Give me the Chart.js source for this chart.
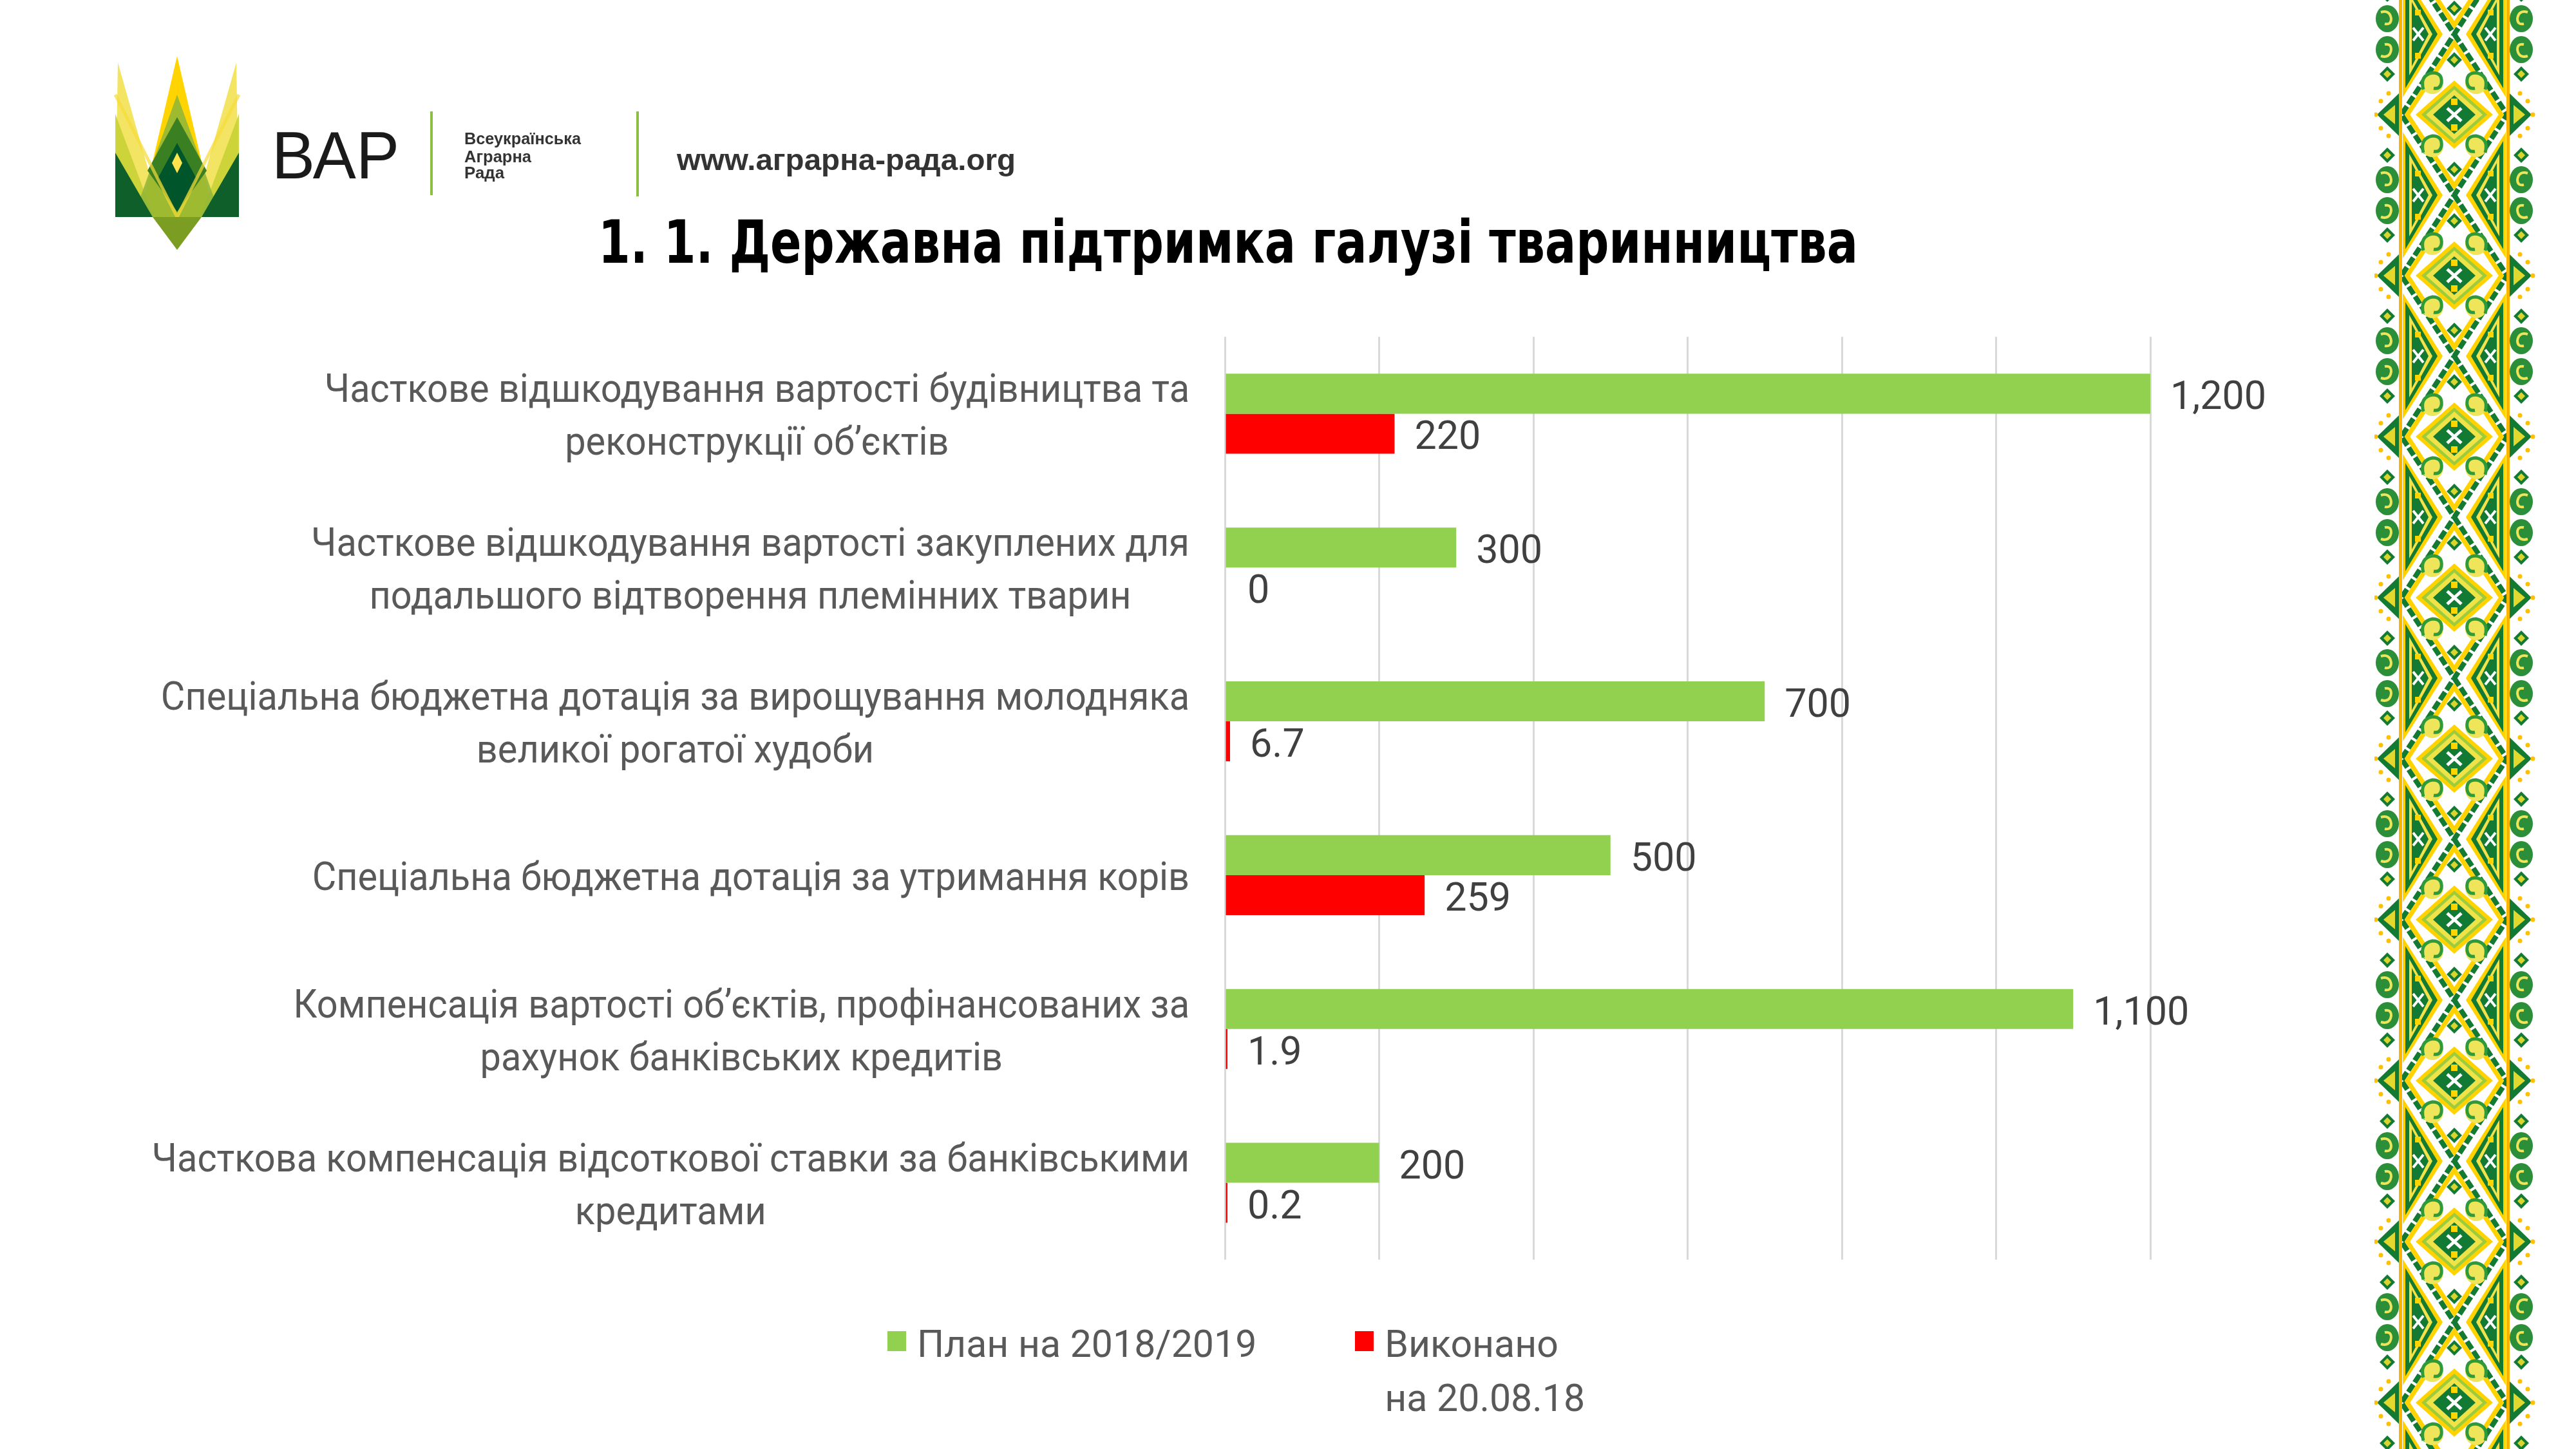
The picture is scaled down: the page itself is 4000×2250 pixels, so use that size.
<!DOCTYPE html>
<html lang="uk">
<head>
<meta charset="utf-8">
<title>Державна підтримка галузі тваринництва</title>
<script src="https://cdn.jsdelivr.net/npm/chart.js@4.4.0/dist/chart.umd.min.js"></script>
<style>
  html, body { margin:0; padding:0; background:#fff; width:4000px; height:2250px; overflow:hidden; }
  #stage { position:absolute; left:0; top:0; width:4000px; height:2250px; }
  #c { position:absolute; left:0; top:0; }
  #hdr { position:absolute; left:0; top:0; }
  #orn { position:absolute; left:3687px; top:0; }
  #legend { position:absolute; left:1378px; top:2045px; display:flex; gap:153px; }
  .li { display:flex; align-items:flex-start; }
  .sw { display:block; width:29px; height:31px; margin-top:22px; margin-right:17px; }
  .tx { font-family: Roboto, "Noto Sans", sans-serif; font-size:59px; line-height:84px; color:#595959; white-space:pre-line; }
</style>
</head>
<body>
<div id="stage">
  <canvas id="c" width="4000" height="2250"></canvas>

  <svg id="hdr" width="3000" height="480" xmlns="http://www.w3.org/2000/svg">
    <!-- emblem -->
    <g transform="translate(179,87)">
      <polygon points="0,250 4,10 72,250" fill="#f3e463"/>
      <polygon points="192,250 188,10 120,250" fill="#f3e463"/>
      <polygon points="96,0 38,250 154,250" fill="#ffd400"/>
      <polygon points="0,90 0,250 60,250" fill="#c9d234" opacity="0.9"/>
      <polygon points="192,90 192,250 132,250" fill="#c9d234" opacity="0.9"/>
      <polygon points="96,60 28,250 164,250" fill="#8db53a" opacity="0.85"/>
      <polygon points="96,95 142,178 96,242 50,178" fill="#3a7f22"/>
      <polygon points="96,135 126,190 96,242 66,190" fill="#00552a"/>
      <polygon points="0,150 0,250 58,250" fill="#0f5f2b"/>
      <polygon points="192,150 192,250 134,250" fill="#0f5f2b"/>
      <path d="M0 60 L96 250 M192 60 L96 250" stroke="#f6dc3a" stroke-width="5" opacity="0.7"/>
      <polygon points="96,150 104,166 96,182 88,166" fill="#ffe34d"/>
      <polygon points="58,250 134,250 96,301" fill="#7b9e22"/>
    </g>
    <text x="422" y="277" font-family="Liberation Sans, Arial, sans-serif" font-size="103" fill="#1a1a1a" textLength="198" lengthAdjust="spacingAndGlyphs">ВАР</text>
    <rect x="668" y="173" width="4" height="130" fill="#8cbf3f"/>
    <text x="721" y="224" font-family="Liberation Sans Narrow, Liberation Sans, Arial, sans-serif" font-weight="bold" font-size="25" fill="#333" textLength="181" lengthAdjust="spacingAndGlyphs">Всеукраїнська</text>
    <text x="721" y="252" font-family="Liberation Sans Narrow, Liberation Sans, Arial, sans-serif" font-weight="bold" font-size="25" fill="#333" textLength="104" lengthAdjust="spacingAndGlyphs">Аграрна</text>
    <text x="721" y="277" font-family="Liberation Sans Narrow, Liberation Sans, Arial, sans-serif" font-weight="bold" font-size="25" fill="#333" textLength="62" lengthAdjust="spacingAndGlyphs">Рада</text>
    <rect x="988" y="173" width="4" height="132" fill="#8cbf3f"/>
    <text x="1051" y="264" font-family="Liberation Sans, Arial, sans-serif" font-weight="bold" font-size="46" fill="#333" textLength="526" lengthAdjust="spacingAndGlyphs">www.аграрна-рада.org</text>
    <!-- title -->
    <text x="929" y="408" font-family="Liberation Sans Narrow, DejaVu Sans Condensed, Liberation Sans, sans-serif" font-weight="bold" font-size="92" fill="#000" textLength="1956" lengthAdjust="spacingAndGlyphs">1. 1. Державна підтримка галузі тваринництва</text>
  </svg>

  <svg id="orn" width="253" height="2250" xmlns="http://www.w3.org/2000/svg" xmlns:xlink="http://www.w3.org/1999/xlink">
    <defs>
      <g id="curl">
        <circle cx="0" cy="0" r="17" fill="#eee55a"/>
        <path d="M-14 10 Q-20 -12 0 -16 Q16 -16 14 0 Q12 10 2 8" fill="none" stroke="#2e9a3a" stroke-width="5"/>
      </g>
      <g id="sdm">
        <polygon points="0,-12 12,0 0,12 -12,0" fill="#137a34"/>
        <polygon points="0,-6 6,0 0,6 -6,0" fill="#d9d52e"/>
      </g>
      <g id="crossHalf">
        <polygon points="44,-98 44,98 106,0" fill="#ffd200"/>
        <polygon points="48,-84 48,84 98,0" fill="#137a34"/>
        <polygon points="54,-64 54,64 90,0" fill="#f3e24a"/>
        <polygon points="58,-50 58,50 84,0" fill="#137a34"/>
        <path d="M60 -10 L76 10 M76 -10 L60 10" stroke="#fff" stroke-width="4"/>
        <rect x="63" y="-38" width="9" height="9" fill="#ffd500"/>
        <rect x="63" y="29" width="9" height="9" fill="#ffd500"/>
        <ellipse cx="20" cy="-24" rx="18" ry="21" fill="#2a8f38"/>
        <ellipse cx="20" cy="24" rx="18" ry="21" fill="#2a8f38"/>
        <path d="M10 -34 Q24 -38 26 -24 Q26 -14 16 -16" fill="none" stroke="#eee55a" stroke-width="4"/>
        <path d="M10 34 Q24 38 26 24 Q26 14 16 16" fill="none" stroke="#eee55a" stroke-width="4"/>
      </g>
      <g id="cross">
        <use xlink:href="#crossHalf"/>
        <use xlink:href="#crossHalf" transform="translate(248,0) scale(-1,1)"/>
      </g>
      <g id="sideHalf">
        <polygon points="38,92 38,158 4,125" fill="#137a34"/>
        <polygon points="32,110 32,140 14,125" fill="#e3d92e"/>
        <circle cx="2" cy="125" r="3.5" fill="#ffc000"/>
        <circle cx="10" cy="104" r="3.5" fill="#ffc000"/>
        <circle cx="10" cy="146" r="3.5" fill="#ffc000"/>
        <circle cx="22" cy="92" r="3.5" fill="#ffc000"/>
        <circle cx="22" cy="158" r="3.5" fill="#ffc000"/>
        <use xlink:href="#sdm" x="20" y="62"/>
        <use xlink:href="#sdm" x="20" y="188"/>
      </g>
      <pattern id="pt" x="0" y="53" width="253" height="250" patternUnits="userSpaceOnUse">
        <rect width="253" height="250" fill="#fff"/>
        <use xlink:href="#cross" y="0"/>
        <use xlink:href="#cross" y="250"/>
        <path d="M124 0 L206 125 L124 250 L42 125 Z" fill="none" stroke="#137a34" stroke-width="8" stroke-dasharray="14 4"/>
        <path d="M124 14 L197 125 L124 236 L51 125 Z" fill="none" stroke="#ffd200" stroke-width="7"/>
        <use xlink:href="#curl" x="90" y="76"/>
        <use xlink:href="#curl" x="158" y="76" transform="translate(316,0) scale(-1,1)"/>
        <use xlink:href="#curl" x="90" y="174"/>
        <use xlink:href="#curl" x="158" y="174" transform="translate(316,0) scale(-1,1)"/>
        <polygon points="124,72 184,125 124,178 64,125" fill="#ffd200"/>
        <polygon points="124,80 175,125 124,170 73,125" fill="#9ccc3c"/>
        <polygon points="124,86 168,125 124,164 80,125" fill="#f0e347"/>
        <polygon points="124,95 157,125 124,155 91,125" fill="#137a34"/>
        <path d="M113 115 L135 135 M135 115 L113 135" stroke="#fff" stroke-width="5"/>
        <rect x="119" y="100" width="10" height="10" fill="#ffd500"/>
        <rect x="119" y="140" width="10" height="10" fill="#ffd500"/>
        <use xlink:href="#sdm" x="124" y="40"/>
        <use xlink:href="#sdm" x="124" y="210"/>
        <use xlink:href="#sideHalf"/>
        <use xlink:href="#sideHalf" transform="translate(248,0) scale(-1,1)"/>
      </pattern>
    </defs>
    <rect width="253" height="2250" fill="url(#pt)"/>
    <rect x="38" y="0" width="5" height="2250" fill="#f7b500"/>
    <rect x="205" y="0" width="5" height="2250" fill="#f7b500"/>
  </svg>

  <div id="legend"></div>
</div>

<script>
// ---------------- data ----------------
const categories = [
  ["Часткове відшкодування вартості будівництва та", "реконструкції об’єктів"],
  ["Часткове відшкодування вартості закуплених для", "подальшого відтворення племінних тварин"],
  ["Спеціальна бюджетна дотація за вирощування молодняка", "великої рогатої худоби"],
  ["Спеціальна бюджетна дотація за утримання корів"],
  ["Компенсація вартості об’єктів, профінансованих за", "рахунок банківських кредитів"],
  ["Часткова компенсація відсоткової ставки за банківськими", "кредитами"]
];
const seriesNames = ["План на 2018/2019", "Виконано\nна 20.08.18"];
const seriesColors = ["#92D050", "#FF0000"];
const planValues = [1200, 300, 700, 500, 1100, 200];
const doneValues = [220, 0, 6.7, 259, 1.9, 0.2];
const xTicks = [0, 200, 400, 600, 800, 1000, 1200];

// ---------------- helpers ----------------
function fmt(v) {
  return v.toLocaleString('en-US', { maximumFractionDigits: 1 });
}

const LABEL_SQUEEZE = 0.945;

const categoryLabelPlugin = {
  id: 'categoryLabels',
  afterDraw(chart) {
    const ctx = chart.ctx;
    const yScale = chart.scales.y;
    const rightEdge = chart.chartArea.left - 55;
    ctx.save();
    ctx.font = '61px Roboto, "Noto Sans", sans-serif';
    ctx.fillStyle = '#595959';
    ctx.textAlign = 'center';
    ctx.textBaseline = 'alphabetic';
    chart.data.labels.forEach((lab, i) => {
      const lines = Array.isArray(lab) ? lab : [lab];
      const cy = yScale.getPixelForValue(i);
      const w = Math.max(...lines.map(l => ctx.measureText(l).width)) * LABEL_SQUEEZE;
      const cx = rightEdge - w / 2;
      lines.forEach((l, j) => {
        ctx.save();
        ctx.translate(cx, cy + 23 + (j - (lines.length - 1) / 2) * 82);
        ctx.scale(LABEL_SQUEEZE, 1);
        ctx.fillText(l, 0, 0);
        ctx.restore();
      });
    });
    ctx.restore();
  }
};

const valueLabelPlugin = {
  id: 'valueLabels',
  afterDatasetsDraw(chart) {
    const ctx = chart.ctx;
    ctx.save();
    ctx.font = '61px Roboto, "Noto Sans", sans-serif';
    ctx.fillStyle = '#404040';
    ctx.textAlign = 'left';
    ctx.textBaseline = 'alphabetic';
    chart.data.datasets.forEach((ds, di) => {
      const meta = chart.getDatasetMeta(di);
      meta.data.forEach((bar, i) => {
        const end = Math.max(bar.x, bar.base);
        ctx.fillText(fmt(ds.data[i]), end + 31, bar.y + 24);
      });
    });
    ctx.restore();
  }
};

// ---------------- chart ----------------
const chart = new Chart(document.getElementById('c'), {
  type: 'bar',
  data: {
    labels: categories,
    datasets: [
      {
        label: seriesNames[0],
        data: planValues,
        backgroundColor: seriesColors[0],
        borderWidth: 0,
        categoryPercentage: 0.52,
        barPercentage: 1.0
      },
      {
        label: seriesNames[1],
        data: doneValues,
        backgroundColor: (c) => (c.raw === 0 ? 'rgba(0,0,0,0)' : seriesColors[1]),
        borderWidth: 0,
        minBarLength: 4,
        categoryPercentage: 0.52,
        barPercentage: 1.0
      }
    ]
  },
  options: {
    indexAxis: 'y',
    responsive: false,
    devicePixelRatio: 1,
    animation: false,
    events: [],
    layout: { padding: { left: 1902, right: 661, top: 523, bottom: 294 } },
    plugins: { legend: { display: false }, tooltip: { enabled: false }, title: { display: false } },
    scales: {
      x: {
        type: 'linear',
        position: 'bottom',
        min: xTicks[0],
        max: xTicks[xTicks.length - 1],
        afterBuildTicks: (s) => { s.ticks = xTicks.map(v => ({ value: v })); },
        ticks: { display: false },
        grid: { color: '#d9d9d9', lineWidth: 3, drawTicks: false },
        border: { display: false }
      },
      y: {
        type: 'category',
        display: false,
        offset: true
      }
    }
  },
  plugins: [categoryLabelPlugin, valueLabelPlugin]
});

// ---------------- legend (from datasets) ----------------
const legendEl = document.getElementById('legend');
chart.data.datasets.forEach((ds, i) => {
  const item = document.createElement('div');
  item.className = 'li';
  const sw = document.createElement('span');
  sw.className = 'sw';
  sw.style.background = seriesColors[i];
  const tx = document.createElement('span');
  tx.className = 'tx';
  tx.textContent = ds.label;
  item.appendChild(sw);
  item.appendChild(tx);
  legendEl.appendChild(item);
});
</script>
</body>
</html>
